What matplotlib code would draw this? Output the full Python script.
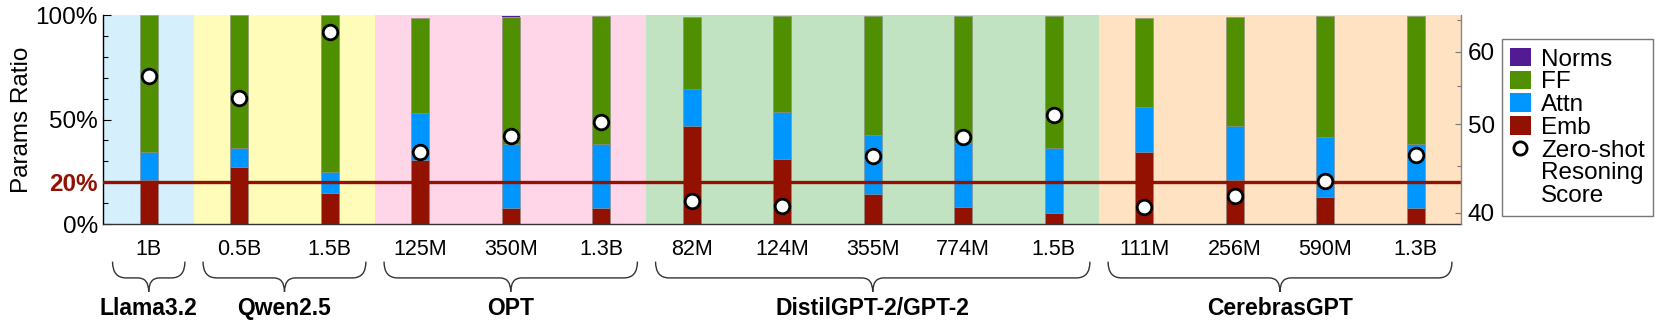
import matplotlib
matplotlib.use("Agg")
import matplotlib.pyplot as plt
import numpy as np
from matplotlib.path import Path
from matplotlib.patches import PathPatch, Patch
from matplotlib.lines import Line2D
from matplotlib.transforms import blended_transform_factory
from matplotlib.ticker import FixedLocator, NullFormatter

plt.rcParams['font.family'] = ['Liberation Sans', 'DejaVu Sans']

# ---------------- data ----------------
models = ["1B", "0.5B", "1.5B", "125M", "350M", "1.3B",
          "82M", "124M", "355M", "774M", "1.5B",
          "111M", "256M", "590M", "1.3B"]
groups = ["Llama3.2", "Qwen2.5", "OPT", "DistilGPT-2/GPT-2", "CerebrasGPT"]
group_sizes = [1, 2, 3, 5, 4]
group_colors = ["#D5F0FC", "#FFFBB9", "#FFD5E8", "#C1E3C1", "#FFE2C2"]

emb   = [21.1, 27.4, 15.0, 30.6, 7.7, 7.7, 47.0, 31.0, 14.4, 8.1, 5.1, 34.6, 21.2, 12.9, 7.7]
attn  = [13.5,  9.1, 10.0, 22.7, 30.4, 30.7, 17.4, 22.7, 28.3, 30.5, 31.4, 21.2, 25.8, 28.9, 30.6]
ff    = [65.3, 63.4, 74.9, 45.3, 61.1, 61.2, 34.7, 45.6, 56.9, 61.0, 63.1, 42.7, 51.9, 57.6, 61.3]
norms = [0.1, 0.1, 0.1, 0.1, 0.3, 0.1, 0.1, 0.1, 0.1, 0.1, 0.1, 0.1, 0.1, 0.1, 0.1]
score = [56.5, 53.4, 63.0, 46.6, 48.5, 50.3, 41.2, 40.7, 46.1, 48.4, 51.2, 40.6, 41.7, 43.3, 46.3]

c_emb, c_attn, c_ff, c_norm = "#931100", "#0096FF", "#4F8F00", "#531B93"

# ---------------- figure ----------------
fig = plt.figure(figsize=(16.61, 3.32), dpi=100)
ax = fig.add_axes([0.0623, 0.3253, 0.8173, 0.6295])

x = np.arange(len(models))
# group backgrounds
starts = np.cumsum([0] + group_sizes[:-1])
for s, n, c in zip(starts, group_sizes, group_colors):
    ax.axvspan(s - 0.5, s + n - 0.5, color=c, lw=0, zorder=0)

frac = lambda v: np.array(v) / 100.0
w = 0.2
ek = dict(edgecolor="#8a8a8a", linewidth=0.4, zorder=2)
b0 = np.zeros(len(x))
ax.bar(x, frac(emb), w, bottom=b0, color=c_emb, **ek)
b1 = b0 + frac(emb)
ax.bar(x, frac(attn), w, bottom=b1, color=c_attn, **ek)
b2 = b1 + frac(attn)
ax.bar(x, frac(ff), w, bottom=b2, color=c_ff, **ek)
b3 = b2 + frac(ff)
ax.bar(x, frac(norms), w, bottom=b3, color=c_norm, edgecolor="none", zorder=2)

ax.axhline(0.2, color=c_emb, lw=2.4, zorder=3)

ax.set_xlim(-0.5, len(models) - 0.5)
ax.set_ylim(0, 1)
ax.set_xticks(x)
ax.set_xticklabels(models, fontsize=15.5)
ax.tick_params(axis='x', length=0, pad=11)
ax.set_yticks([0, 0.2, 0.5, 1.0])
ax.set_yticklabels(["0%", "20%", "50%", "100%"], fontsize=17.5)
ax.yaxis.set_minor_locator(FixedLocator(np.arange(0.1, 1.0, 0.1)))
ax.tick_params(axis='y', which='major', direction='in', length=6, width=0.8, pad=4)
ax.tick_params(axis='y', which='minor', direction='in', length=3.5, width=0.8)
lab20 = ax.get_yticklabels()[1]
lab20.set_color(c_emb)
lab20.set_fontweight('bold')
ax.set_ylabel("Params Ratio", fontsize=17.5, labelpad=2)
ax.yaxis.set_label_coords(-0.052, 0.5)

for side in ["top", "right"]:
    ax.spines[side].set_visible(False)
ax.spines["left"].set_linewidth(1.0)
ax.spines["bottom"].set_linewidth(1.0)
ax.spines["bottom"].set_color("#333333")

# right axis: zero-shot score (log scale)
ax2 = ax.twinx()
ax2.set_yscale('log')
ax2.set_ylim(38.88, 65.8)
ax2.plot(x, score, linestyle='none', marker='o', markersize=10.5,
         markerfacecolor='white', markeredgecolor='black', markeredgewidth=2.0, zorder=5)
ax2.yaxis.set_major_locator(FixedLocator([40, 50, 60]))
ax2.yaxis.set_minor_locator(FixedLocator([45, 55, 65]))
ax2.yaxis.set_minor_formatter(NullFormatter())
ax2.set_yticklabels(["40", "50", "60"], fontsize=17.5)
ax2.tick_params(axis='y', which='major', direction='in', length=4.5, width=0.8,
                color="#777777", pad=5)
ax2.tick_params(axis='y', which='minor', direction='in', length=3, width=0.8,
                color="#777777")
for side in ["top", "left", "bottom"]:
    ax2.spines[side].set_visible(False)
ax2.spines["right"].set_color("#888888")
ax2.spines["right"].set_linewidth(1.0)

# braces and group labels
trans = blended_transform_factory(ax.transData, ax.transAxes)
yt, ym, yb = -0.180, -0.258, -0.324
r, r2 = 0.15, 0.12
for s, n, name in zip(starts, group_sizes, groups):
    x0 = s - 0.4
    x1 = s + n - 1 + 0.4
    xm = (x0 + x1) / 2
    verts = [(x0, yt), (x0, ym), (x0 + r, ym),
             (xm - r2, ym), (xm, ym), (xm, yb),
             (xm, ym), (xm + r2, ym),
             (x1 - r, ym), (x1, ym), (x1, yt)]
    codes = [Path.MOVETO, Path.CURVE3, Path.CURVE3,
             Path.LINETO, Path.CURVE3, Path.CURVE3,
             Path.CURVE3, Path.CURVE3,
             Path.LINETO, Path.CURVE3, Path.CURVE3]
    pp = PathPatch(Path(verts, codes), transform=trans, fill=False,
                   edgecolor="#333333", lw=1.0, clip_on=False)
    ax.add_patch(pp)
    ax.text(xm, -0.402, name, transform=trans, ha='center', va='center',
            fontsize=16.5, fontweight='bold')

# legend
blank = Line2D([], [], linestyle='none', marker=None)
handles = [Patch(facecolor=c_norm, edgecolor='none'),
           Patch(facecolor=c_ff, edgecolor='none'),
           Patch(facecolor=c_attn, edgecolor='none'),
           Patch(facecolor=c_emb, edgecolor='none'),
           Line2D([], [], linestyle='none', marker='o', markersize=9.5,
                  markerfacecolor='white', markeredgecolor='black', markeredgewidth=2),
           blank, blank]
labels = ["Norms", "FF", "Attn", "Emb", "Zero-shot", "Resoning", "Score"]
leg = fig.legend(handles, labels, loc='upper left', bbox_to_anchor=(0.904, 0.8816),
                 fontsize=17.5, frameon=True, fancybox=False, borderpad=0.35,
                 labelspacing=0.0, handlelength=0.85, handleheight=0.8,
                 handletextpad=0.42, borderaxespad=0)
leg.get_frame().set_edgecolor("#555555")
leg.get_frame().set_linewidth(1.0)

fig.savefig("out.png", dpi=100)
